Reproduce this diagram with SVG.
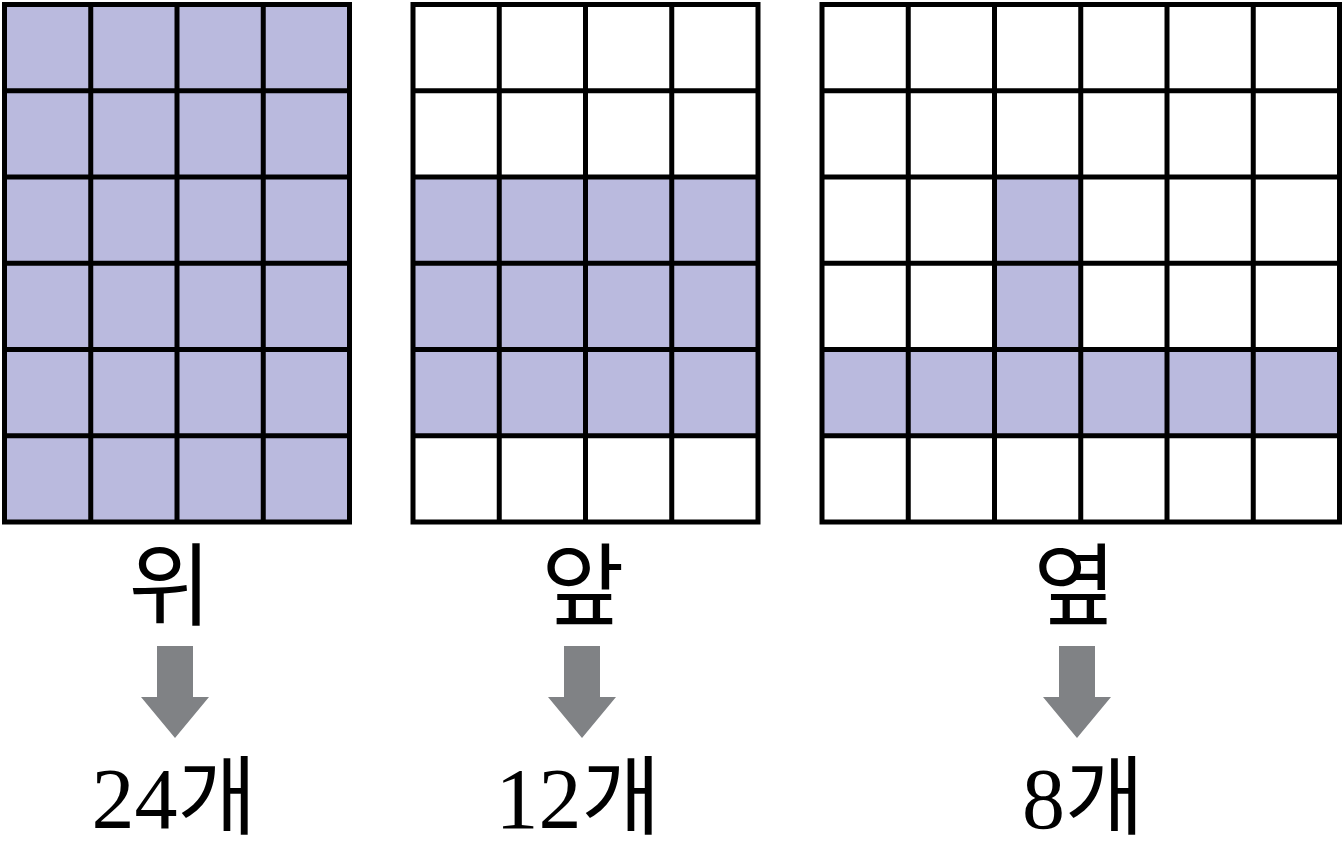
<svg xmlns="http://www.w3.org/2000/svg" width="1344" height="856" viewBox="0 0 1344 856">
<style>
.fill{fill:#babade;stroke:none}
.grid{fill:none;stroke:#000;stroke-width:5;stroke-linecap:square}
.arrow{fill:#808285;stroke:none}
.lbl{font-family:"Liberation Serif","Noto Sans CJK KR",serif;font-size:90px;fill:#000;text-anchor:middle}
.num{font-family:"Liberation Serif","Noto Sans CJK KR",serif;font-size:86px;fill:#000;text-anchor:middle}
</style>
<rect width="1344" height="856" fill="#fff"/>
<g id="top">
<rect class="fill" x="4.5" y="4.5" width="345" height="517.5"/>
<path class="grid" d="M4.5 4.5H349.5V522H4.5Z M90.75 4.5V522 M177 4.5V522 M263.25 4.5V522 M4.5 90.75H349.5 M4.5 177H349.5 M4.5 263.25H349.5 M4.5 349.5H349.5 M4.5 435.75H349.5"/>
<text class="lbl" x="170" y="618">위</text>
<text class="num" x="174" y="828">24개</text>
</g>
<g id="front">
<rect class="fill" x="413" y="177" width="345" height="258.75"/>
<path class="grid" d="M413 4.5H758V522H413Z M499.25 4.5V522 M585.5 4.5V522 M671.75 4.5V522 M413 90.75H758 M413 177H758 M413 263.25H758 M413 349.5H758 M413 435.75H758"/>
<text class="lbl" x="583" y="618">앞</text>
<text class="num" x="578" y="828">12개</text>
</g>
<g id="side">
<rect class="fill" x="994.5" y="177" width="86.25" height="172.5"/>
<rect class="fill" x="822" y="349.5" width="517.5" height="86.25"/>
<path class="grid" d="M822 4.5H1339.5V522H822Z M908.25 4.5V522 M994.5 4.5V522 M1080.75 4.5V522 M1167 4.5V522 M1253.25 4.5V522 M822 90.75H1339.5 M822 177H1339.5 M822 263.25H1339.5 M822 349.5H1339.5 M822 435.75H1339.5"/>
<text class="lbl" x="1075" y="618">옆</text>
<text class="num" x="1083" y="828">8개</text>
</g>
<g id="connectors">
<polygon class="arrow" points="157,646 193,646 193,697 209,697 175,738 141,697 157,697"/>
<polygon class="arrow" points="564,646 600,646 600,697 616,697 582,738 548,697 564,697"/>
<polygon class="arrow" points="1059,646 1095,646 1095,697 1111,697 1077,738 1043,697 1059,697"/>
</g>
</svg>
